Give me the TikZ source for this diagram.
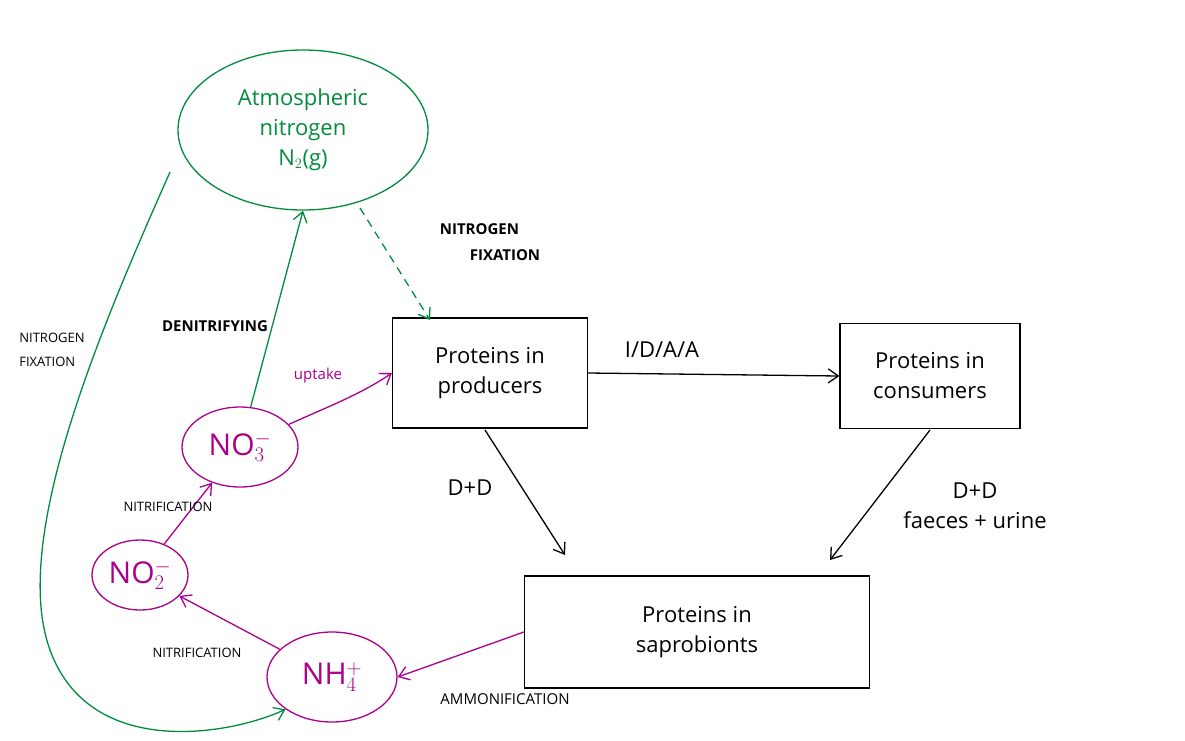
\documentclass[tikz,border=0pt]{standalone}
\usepackage{fontspec}
\setmainfont{Open Sans}
\usetikzlibrary{arrows.meta,shapes.geometric}
\definecolor{gr}{RGB}{0,140,60}
\definecolor{mg}{RGB}{170,0,140}
\newcommand{\fbig}{\fontsize{22}{30}\selectfont}
\newcommand{\fion}{\fontsize{30}{34}\selectfont}
\newcommand{\flab}{\fontsize{15}{20}\selectfont}
\newcommand{\fsml}{\fontsize{13}{18}\selectfont}
\begin{document}
\begin{tikzpicture}[x=1pt,y=-1pt,
  ell/.style={draw,ellipse,line width=1.3pt,inner sep=0pt},
  box/.style={draw,line width=1.3pt,inner sep=0pt,align=center,font=\fbig},
  arr/.style={line width=1.3pt,-{Straight Barb[length=10pt,width=14pt]}},
  lab/.style={font=\flab,align=left}]
\useasboundingbox (0,0) rectangle (1185,740);
\node[ell,gr,minimum width=250,minimum height=160,align=center,font=\fbig,text=gr] (atm) at (303,130) {Atmospheric\\nitrogen\\N$_2$(g)};
\node[box,minimum width=195,minimum height=110] (prod) at (490,373) {Proteins in\\producers};
\node[box,minimum width=180,minimum height=105] (cons) at (930,376) {Proteins in\\consumers};
\node[box,minimum width=345,minimum height=112] (sap) at (697,632) {Proteins in\\saprobionts};
\node[ell,mg,text=mg,minimum width=116,minimum height=80,font=\fion] (no3) at (240,447) {NO$_3^-$};
\node[ell,mg,text=mg,minimum width=96,minimum height=70,font=\fion] (no2) at (140,575) {NO$_2^-$};
\node[ell,mg,text=mg,minimum width=130,minimum height=90,font=\fion] (nh4) at (332,677) {NH$_4^+$};
\coordinate (fa) at (360,208); \coordinate (fb) at (430,320); \coordinate (ls) at (170,172);
\draw[arr,gr,dashed,dash pattern=on 8pt off 6pt] (fa) -- (fb);
\draw[arr,gr] (no3) -- (atm.south);
\draw[arr,gr] (ls) .. controls (100,330) and (10,540) .. (50,650) .. controls (90,760) and (230,735) .. (nh4.south west);
\draw[arr,mg] (no3) .. controls (320,410) and (360,395) .. (prod.west);
\draw[arr,black] (prod.east) -- (cons.west);
\draw[arr,black] (485,430) -- (565,555);
\draw[arr,black] (930,430) -- (830,560);
\draw[arr,mg] (sap.west) -- (nh4.east);
\draw[arr,mg] (nh4) -- (no2);
\draw[arr,mg] (no2) -- (no3);
\node[lab,font=\flab\bfseries] (l1) at (490,242) {NITROGEN\\[6pt]\hspace{2em}FIXATION};
\node[lab,font=\fsml] (l2) at (52,350) {NITROGEN\\[6pt]FIXATION};
\node[lab,font=\flab\bfseries] (l3) at (215,326) {DENITRIFYING};
\node[lab,mg,font=\flab] (l4) at (318,376) {uptake};
\node[lab,font=\fbig] (l5) at (662,350) {I/D/A/A};
\node[lab,font=\fbig] (l6) at (470,488) {D+D};
\node[lab,align=center,font=\fbig] (l7) at (975,506) {D+D\\faeces + urine};
\node[lab,font=\fsml] (l8) at (168,507) {NITRIFICATION};
\node[lab,font=\fsml] (l9) at (197,653) {NITRIFICATION};
\node[lab,font=\flab] (l10) at (505,699) {AMMONIFICATION};
\end{tikzpicture}
\end{document}
